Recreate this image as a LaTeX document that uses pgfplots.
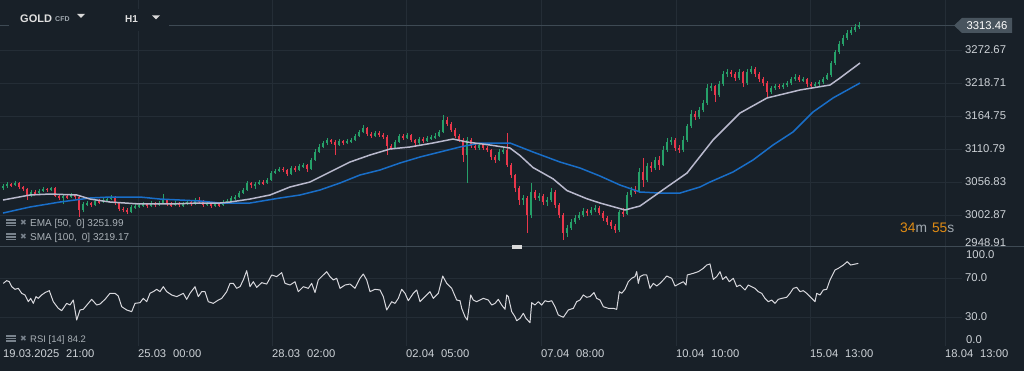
\documentclass[border=0pt]{standalone}
\usepackage{fontspec}
\setmainfont{Liberation Sans}
\newfontfamily\symfont{DejaVu Sans}
\usepackage{pgfplots}
\usepackage{pgfplotstable}
\pgfplotsset{compat=1.18}
\definecolor{bg}{RGB}{24,32,40}
\definecolor{gridc}{RGB}{36,45,54}
\definecolor{txt}{RGB}{205,210,215}
\definecolor{textdim}{RGB}{160,168,175}
\definecolor{upc}{RGB}{38,160,105}
\definecolor{dnc}{RGB}{232,55,75}
\definecolor{emac}{RGB}{185,185,205}
\definecolor{smac}{RGB}{25,110,200}
\definecolor{rsic}{RGB}{215,215,220}
\definecolor{orng}{RGB}{225,140,20}
\definecolor{icong}{RGB}{120,130,140}
\definecolor{sepc}{RGB}{62,74,84}
\definecolor{boxc}{RGB}{72,84,94}

\pgfplotstableread{
x o h l c
3 3046.9 3053.5 3043.7 3050.2
7 3050.2 3056.7 3046.9 3053.5
11 3053.5 3055.1 3048.6 3051.8
15 3051.8 3058.4 3050.2 3055.1
19 3055.1 3056.7 3045.3 3048.6
23 3048.6 3050.2 3042.0 3045.3
27 3045.3 3046.9 3027.3 3033.8
31 3033.8 3043.7 3032.2 3040.4
35 3040.4 3043.7 3035.5 3038.7
39 3038.7 3045.3 3037.1 3042.0
43 3042.0 3048.6 3040.4 3045.3
47 3045.3 3046.9 3040.4 3043.7
51 3043.7 3048.6 3042.0 3046.9
55 3046.9 3048.6 3032.2 3033.8
59 3033.8 3035.5 3027.3 3030.6
63 3030.6 3037.1 3020.8 3033.8
67 3033.8 3037.1 3028.9 3032.2
71 3032.2 3038.7 3030.6 3035.5
75 3035.5 3037.1 3028.9 3032.2
79 3032.2 3035.5 2999.5 3011.0
83 3011.0 3024.0 3007.7 3020.8
87 3020.8 3025.7 3017.5 3022.4
91 3022.4 3024.0 3015.9 3019.1
95 3019.1 3028.9 3017.5 3025.7
99 3025.7 3028.9 3020.8 3024.0
103 3024.0 3030.6 3022.4 3027.3
107 3027.3 3032.2 3024.0 3028.9
111 3028.9 3035.5 3027.3 3032.2
115 3032.2 3033.8 3019.1 3022.4
119 3022.4 3024.0 3009.3 3012.6
123 3012.6 3015.9 3007.7 3011.0
127 3011.0 3014.2 3004.4 3007.7
131 3007.7 3019.1 3006.0 3015.9
135 3015.9 3020.8 3012.6 3017.5
139 3017.5 3022.4 3014.2 3019.1
143 3019.1 3024.0 3015.9 3020.8
147 3020.8 3022.4 3014.2 3017.5
151 3017.5 3025.7 3015.9 3022.4
155 3022.4 3024.0 3015.9 3019.1
159 3019.1 3025.7 3017.5 3022.4
163 3022.4 3037.1 3020.8 3027.3
167 3027.3 3028.9 3017.5 3020.8
171 3020.8 3024.0 3015.9 3019.1
175 3019.1 3025.7 3017.5 3022.4
179 3022.4 3024.0 3015.9 3019.1
183 3019.1 3024.0 3015.9 3020.8
187 3020.8 3027.3 3019.1 3024.0
191 3024.0 3025.7 3017.5 3020.8
195 3020.8 3030.6 3019.1 3027.3
199 3027.3 3032.2 3022.4 3025.7
203 3025.7 3027.3 3015.9 3019.1
207 3019.1 3025.7 3017.5 3022.4
211 3022.4 3024.0 3014.2 3017.5
215 3017.5 3024.0 3015.9 3020.8
219 3020.8 3022.4 3015.9 3019.1
223 3019.1 3027.3 3017.5 3024.0
227 3024.0 3028.9 3020.8 3025.7
231 3025.7 3033.8 3024.0 3030.6
235 3030.6 3035.5 3027.3 3032.2
239 3032.2 3042.0 3030.6 3038.7
243 3038.7 3046.9 3037.1 3043.7
247 3043.7 3058.4 3042.0 3055.1
251 3055.1 3056.7 3046.9 3051.8
255 3051.8 3056.7 3045.3 3053.5
259 3053.5 3060.0 3051.8 3056.7
263 3056.7 3060.0 3051.8 3055.1
267 3055.1 3063.3 3053.5 3060.0
271 3060.0 3074.7 3058.4 3071.4
275 3071.4 3078.0 3069.8 3074.7
279 3074.7 3081.3 3073.1 3078.0
283 3078.0 3081.3 3073.1 3076.4
287 3076.4 3078.0 3066.5 3069.8
291 3069.8 3082.9 3068.2 3079.6
295 3079.6 3082.9 3073.1 3076.4
299 3076.4 3086.2 3074.7 3082.9
303 3082.9 3087.8 3079.6 3084.5
307 3084.5 3086.2 3073.1 3078.0
311 3078.0 3096.0 3076.4 3092.7
315 3092.7 3110.7 3091.1 3105.8
319 3105.8 3118.9 3104.1 3114.0
323 3114.0 3123.8 3112.3 3120.5
327 3120.5 3128.7 3117.2 3125.4
331 3125.4 3127.0 3118.9 3122.1
335 3122.1 3125.4 3100.9 3117.2
339 3117.2 3127.0 3115.6 3123.8
343 3123.8 3125.4 3117.2 3120.5
347 3120.5 3127.0 3118.9 3123.8
351 3123.8 3128.7 3120.5 3125.4
355 3125.4 3135.2 3123.8 3131.9
359 3131.9 3141.8 3130.3 3138.5
363 3138.5 3149.9 3136.8 3145.0
367 3145.0 3146.7 3131.9 3135.2
371 3135.2 3138.5 3128.7 3131.9
375 3131.9 3140.1 3130.3 3136.8
379 3136.8 3140.1 3130.3 3133.6
383 3133.6 3136.8 3127.0 3130.3
387 3130.3 3133.6 3100.9 3115.6
391 3115.6 3118.9 3109.1 3112.3
395 3112.3 3125.4 3110.7 3122.1
399 3122.1 3135.2 3120.5 3131.9
403 3131.9 3135.2 3125.4 3128.7
407 3128.7 3136.8 3127.0 3133.6
411 3133.6 3135.2 3122.1 3125.4
415 3125.4 3127.0 3115.6 3120.5
419 3120.5 3130.3 3117.2 3127.0
423 3127.0 3130.3 3120.5 3123.8
427 3123.8 3131.9 3122.1 3128.7
431 3128.7 3133.6 3125.4 3130.3
435 3130.3 3136.8 3127.0 3131.9
439 3131.9 3141.8 3130.3 3138.5
443 3138.5 3166.3 3136.8 3158.1
447 3158.1 3163.0 3148.3 3151.6
451 3151.6 3154.8 3138.5 3141.8
455 3141.8 3145.0 3128.7 3131.9
459 3131.9 3135.2 3122.1 3125.4
463 3125.4 3128.7 3089.4 3100.9
467 3100.9 3130.3 3055.1 3125.4
471 3125.4 3128.7 3112.3 3115.6
475 3115.6 3118.9 3109.1 3112.3
479 3112.3 3120.5 3109.1 3117.2
483 3117.2 3118.9 3109.1 3112.3
487 3112.3 3115.6 3105.8 3109.1
491 3109.1 3110.7 3092.7 3097.6
495 3097.6 3100.9 3087.8 3092.7
499 3092.7 3110.7 3091.1 3105.8
503 3105.8 3114.0 3102.5 3109.1
507 3109.1 3136.8 3081.3 3084.5
511 3084.5 3087.8 3063.3 3068.2
515 3068.2 3069.8 3040.4 3046.9
519 3046.9 3050.2 3019.1 3027.3
523 3027.3 3035.5 3019.1 3030.6
527 3030.6 3033.8 2973.3 3002.8
531 3002.8 3055.1 2997.9 3040.4
535 3040.4 3043.7 3027.3 3030.6
539 3030.6 3038.7 3025.7 3033.8
543 3033.8 3037.1 3019.1 3024.0
547 3024.0 3032.2 3017.5 3027.3
551 3027.3 3046.9 3024.0 3040.4
555 3040.4 3043.7 3014.2 3019.1
559 3019.1 3022.4 2997.9 3002.8
563 3002.8 3006.0 2961.9 2973.3
567 2973.3 2986.4 2966.8 2981.5
571 2981.5 2996.2 2978.3 2991.3
575 2991.3 3002.8 2988.1 2997.9
579 2997.9 3007.7 2994.6 3002.8
583 3002.8 3014.2 2999.5 3009.3
587 3009.3 3012.6 3001.1 3006.0
591 3006.0 3015.9 3002.8 3011.0
595 3011.0 3019.1 3007.7 3014.2
599 3014.2 3017.5 3002.8 3006.0
603 3006.0 3009.3 2993.0 2997.9
607 2997.9 3001.1 2986.4 2991.3
611 2991.3 2994.6 2979.9 2984.8
615 2984.8 2988.1 2973.3 2978.3
619 2978.3 3011.0 2975.0 3007.7
623 3007.7 3014.2 2999.5 3004.4
627 3004.4 3040.4 3002.8 3035.5
631 3035.5 3048.6 3032.2 3043.7
635 3043.7 3050.2 3037.1 3042.0
639 3042.0 3079.6 3038.7 3073.1
643 3073.1 3096.0 3048.6 3060.0
647 3060.0 3087.8 3056.7 3082.9
651 3082.9 3089.4 3073.1 3079.6
655 3079.6 3097.6 3076.4 3092.7
659 3092.7 3099.2 3076.4 3084.5
663 3084.5 3115.6 3082.9 3109.1
667 3109.1 3128.7 3105.8 3122.1
671 3122.1 3130.3 3117.2 3125.4
675 3125.4 3128.7 3107.4 3112.3
679 3112.3 3117.2 3104.1 3109.1
683 3109.1 3131.9 3105.8 3125.4
687 3125.4 3151.6 3122.1 3148.3
691 3148.3 3174.5 3145.0 3167.9
695 3167.9 3172.8 3158.1 3163.0
699 3163.0 3179.4 3159.7 3174.5
703 3174.5 3190.8 3171.2 3185.9
707 3185.9 3217.0 3182.6 3210.4
711 3210.4 3218.6 3205.5 3213.7
715 3213.7 3215.3 3187.5 3199.0
719 3199.0 3221.9 3195.7 3217.0
723 3217.0 3238.2 3213.7 3233.3
727 3233.3 3241.5 3228.4 3236.6
731 3236.6 3239.9 3228.4 3233.3
735 3233.3 3236.6 3221.9 3226.8
739 3226.8 3241.5 3223.5 3236.6
743 3236.6 3238.2 3212.1 3218.6
747 3218.6 3241.5 3215.3 3236.6
751 3236.6 3246.4 3233.3 3241.5
755 3241.5 3244.8 3228.4 3233.3
759 3233.3 3236.6 3220.2 3225.1
763 3225.1 3228.4 3213.7 3218.6
767 3218.6 3221.9 3195.7 3203.9
771 3203.9 3213.7 3200.6 3210.4
775 3210.4 3217.0 3207.2 3213.7
779 3213.7 3217.0 3208.8 3212.1
783 3212.1 3218.6 3208.8 3215.3
787 3215.3 3221.9 3212.1 3218.6
791 3218.6 3228.4 3215.3 3225.1
795 3225.1 3233.3 3221.9 3228.4
799 3228.4 3231.7 3220.2 3223.5
803 3223.5 3228.4 3220.2 3225.1
807 3225.1 3226.8 3212.1 3217.0
811 3217.0 3220.2 3210.4 3213.7
815 3213.7 3220.2 3210.4 3217.0
819 3217.0 3223.5 3213.7 3220.2
823 3220.2 3228.4 3217.0 3225.1
827 3225.1 3234.9 3223.5 3231.7
831 3231.7 3254.6 3228.4 3251.3
835 3251.3 3272.6 3248.0 3269.3
839 3269.3 3287.3 3266.0 3282.4
843 3282.4 3297.1 3279.1 3292.2
847 3292.2 3305.3 3288.9 3300.3
851 3300.3 3310.2 3297.1 3305.3
855 3305.3 3315.1 3302.0 3310.2
859 3310.2 3318.3 3306.9 3313.5
}\candles

\pgfplotstableread{
x v
3 3027.3
30 3035.5
50 3037.1
77 3035.5
90 3028.9
110 3024.0
140 3020.8
170 3020.8
200 3022.4
220 3022.4
230 3024.0
250 3028.9
270 3035.5
290 3048.6
310 3056.7
330 3073.1
350 3089.4
370 3100.9
390 3110.7
410 3114.0
433 3120.5
453 3127.0
467 3122.1
490 3117.2
510 3112.3
520 3100.0
533 3080.4
553 3062.0
567 3042.7
587 3029.3
600 3022.4
625 3011.0
640 3017.5
667 3048.6
687 3071.4
713 3125.4
740 3169.5
767 3194.1
800 3207.2
830 3215.3
840 3226.8
860 3251.3
}\ema

\pgfplotstableread{
x v
3 3006.0
30 3015.9
60 3024.0
90 3030.6
110 3032.2
140 3032.2
160 3028.9
200 3025.7
220 3022.4
250 3022.4
280 3030.6
300 3035.5
320 3043.7
340 3055.1
360 3068.2
380 3076.4
400 3087.8
420 3097.6
460 3114.0
480 3120.5
510 3120.5
533 3105.8
560 3089.4
580 3079.6
600 3066.5
620 3051.8
640 3040.4
660 3038.7
680 3038.7
700 3048.6
710 3056.7
733 3073.1
753 3092.7
773 3117.2
793 3138.5
813 3171.2
833 3194.1
860 3218.6
}\sma

\pgfplotstableread{
x r
3.3 64.5
6.7 67.3
9.3 66.2
11.7 61.1
15 58.4
18.3 59.4
21.7 54.3
25 52.6
28.3 45.7
30.7 49.1
33.3 44.0
36 50.9
38.3 49.1
41.7 52.6
45 55.0
49.3 57.0
53.3 45.7
58.3 38.9
61.7 36.5
66.7 44.0
70 42.3
73.3 47.4
76.7 26.9
80 37.2
83.3 37.9
88.3 44.0
91.7 48.1
96.7 42.3
100 43.3
105 48.1
110 54.3
115 54.3
118.3 51.5
121.7 40.6
126.7 37.2
131.7 35.5
135 44.0
140 44.7
143.3 49.1
146.7 45.7
150 54.3
153.3 56.0
156.7 58.4
160 56.0
163.3 61.1
166.7 56.0
171.7 52.6
176.7 50.9
183.3 54.3
186.7 48.1
190 54.3
195 61.1
198.3 50.9
201.7 56.0
205 56.0
208.3 45.7
213.3 44.0
218.3 47.4
221.7 49.1
226.7 56.0
230 64.5
233.3 64.5
236.7 59.4
240 61.1
243.3 68.0
246.7 77.5
250 61.1
253.3 66.2
256.7 60.4
261.7 65.2
266.7 63.8
271.7 73.1
276.7 71.4
281.7 75.5
285 64.5
290 62.8
295 66.2
298.3 56.0
303.3 61.1
308.3 59.4
311.7 64.5
315 55.0
318.3 68.0
323.3 73.1
326.7 76.5
330 71.4
333.3 68.0
336.7 69.7
340 59.4
345 62.8
350 63.8
355 59.4
360 69.7
363.3 74.1
366.7 68.0
370 56.0
375 58.4
380 57.7
383.3 50.9
386.7 37.2
391.7 45.7
395 44.0
398.3 49.1
401.7 58.4
405 54.3
408.3 46.7
413.3 54.3
416.7 57.7
420 45.7
425 50.9
430 56.0
433.3 49.1
438.3 54.3
442.7 72.0
446.7 64.5
451.7 59.4
456.7 47.4
460 46.7
461.7 38.9
465 30.3
467.3 26.9
470.7 52.6
473.3 47.4
476.7 45.7
480 47.4
483.3 49.1
488.3 47.4
491.7 42.3
495 44.0
498.3 48.1
501.7 42.3
505 37.9
506.7 52.6
508.3 50.9
511.7 35.5
515 30.3
516.7 26.2
520 28.6
523.3 33.8
526 28.6
530 24.2
531.7 44.7
535 42.3
538.3 45.7
541.7 42.3
545 46.7
548.3 45.7
551.7 46.7
555 40.6
558.3 32.1
563.3 29.7
568.3 37.2
573.3 38.9
576.7 45.7
580 47.4
583.3 52.6
586.7 50.2
590 50.9
594 55.0
596.7 49.1
600 47.4
603.3 40.6
608.3 38.9
613.3 38.9
616.7 37.9
619.3 56.0
621.7 54.3
625 58.4
628.3 66.2
631.7 69.7
635 71.4
636.7 76.5
638.3 64.5
640 71.4
643.3 73.1
646.7 73.1
650 59.4
653.3 64.5
656.7 61.8
660 64.5
663.3 68.0
666.7 72.0
671.7 69.7
675 61.8
680 64.5
683.3 66.2
686 62.8
687.3 73.1
693.3 74.8
698.3 76.5
703.3 79.9
706.7 83.3
710 84.4
713.3 68.6
716.7 71.4
720 76.5
722.7 68.6
726 71.4
729.3 66.2
733.3 69.7
736.7 61.1
740 62.8
745 57.7
748.3 62.8
751.7 61.1
755 59.4
758.3 56.0
761.7 54.3
765 49.1
768.3 45.7
771.7 47.4
775 44.0
778.3 48.1
781.7 49.1
786.7 50.2
790 54.3
793.3 59.4
796.7 60.4
800 56.0
803.3 57.0
806.7 54.3
810 50.9
815 45.7
816.7 54.3
820 52.6
823.3 57.7
826.7 58.4
830 68.0
835 78.2
838.3 79.9
843.3 83.3
847.3 86.8
850.7 83.3
858.3 85.0
}\rsi

\pgfplotsset{
  panel/.style={
    scale only axis, width=962pt, xmin=0, xmax=962,
    axis line style={draw=none}, major tick length=0pt,
    grid=major, grid style={draw=gridc, line width=0.8pt},
    xtick={138,272,406,541,676,810,945},
    yticklabel pos=right,
    yticklabel style={anchor=west, inner sep=0pt, xshift=3pt, text=txt,
      font=\fontsize{11.3}{13}\selectfont},
  },
  candle/.style 2 args={draw=none, no markers, forget plot,
    error bars/.cd, y dir=both, y explicit, error mark=none,
    error bar style={line width=#1, draw=#2}},
}

\newcommand\legicon[2]{%
  \fill[icong] (#1,#2-3.5) rectangle (#1+10,#2+3.5);
  \draw[bg,line width=0.7pt] (#1,#2+1.2) -- (#1+10,#2+1.2) (#1,#2-1.2) -- (#1+10,#2-1.2);
  \node[anchor=center,inner sep=0pt,text=icong,font=\symfont\fontsize{8}{8}\selectfont] at (#1+17.5,#2) {✖};
}

\begin{document}
\begin{tikzpicture}[x=1pt,y=1pt]
\fill[bg] (0,0) rectangle (1024,371);

% ---------- price panel ----------
\begin{axis}[panel, at={(0pt,124pt)}, anchor=south west, height=247pt,
  ymin=2950.5, ymax=3354.3,
  xticklabels={,,,,,,,},
  ytick={3002.87,3056.83,3110.79,3164.75,3218.71,3272.67},
  yticklabels={3002.87,3056.83,3110.79,3164.75,3218.71,3272.67},
]
\addplot[draw=sepc, line width=0.9pt, forget plot] coordinates {(0,3313.46) (962,3313.46)};
% wicks
\addplot[restrict expr to domain={\thisrow{c}-\thisrow{o}}{0:100000}, candle={0.8pt}{upc}]
  table[x=x, y expr={(\thisrow{h}+\thisrow{l})/2}, y error expr={(\thisrow{h}-\thisrow{l})/2}] {\candles};
\addplot[restrict expr to domain={\thisrow{c}-\thisrow{o}}{-100000:-0.001}, candle={0.8pt}{dnc}]
  table[x=x, y expr={(\thisrow{h}+\thisrow{l})/2}, y error expr={(\thisrow{h}-\thisrow{l})/2}] {\candles};
% bodies
\addplot[restrict expr to domain={\thisrow{c}-\thisrow{o}}{0:100000}, candle={2.6pt}{upc}]
  table[x=x, y expr={(\thisrow{o}+\thisrow{c})/2}, y error expr={max(abs(\thisrow{c}-\thisrow{o})/2,0.6)}] {\candles};
\addplot[restrict expr to domain={\thisrow{c}-\thisrow{o}}{-100000:-0.001}, candle={2.6pt}{dnc}]
  table[x=x, y expr={(\thisrow{o}+\thisrow{c})/2}, y error expr={max(abs(\thisrow{c}-\thisrow{o})/2,0.6)}] {\candles};
% moving averages
\addplot[smac, line width=1.5pt, mark=none, line join=round] table[x=x, y=v] {\sma};
\addplot[emac, line width=1.5pt, mark=none, line join=round] table[x=x, y=v] {\ema};
\end{axis}

% ---------- RSI panel ----------
\begin{axis}[panel, at={(0pt,24.75pt)}, anchor=south west, height=99.25pt,
  ymin=0, ymax=101.8,
  ytick={30,70}, yticklabels={30.0,70.0},
  xticklabels={{25.03\hspace{7pt}00:00},{28.03\hspace{7pt}02:00},{02.04\hspace{7pt}05:00},{07.04\hspace{7pt}08:00},{10.04\hspace{7pt}10:00},{15.04\hspace{7pt}13:00},{18.04\hspace{7pt}13:00}},
  extra x ticks={3}, extra x tick labels={19.03.2025\hspace{7pt}21:00},
  extra x tick style={grid=none},
  xticklabel style={anchor=north west, inner sep=0pt, yshift=-2.8pt, text=txt,
    font=\fontsize{11.2}{13}\selectfont},
]
\addplot[rsic, line width=1pt, mark=none, line join=round] table[x=x, y=r] {\rsi};
\end{axis}

% separator
\draw[sepc, line width=1pt] (0,124) -- (1024,124);
\fill[black!15] (512,122.3) rectangle (522,125.7);

% extra axis labels
\node[anchor=west, inner sep=0pt, text=txt, font=\fontsize{11.3}{13}\selectfont] at (965,128.5) {2948.91};
\node[anchor=west, inner sep=0pt, text=txt, font=\fontsize{11.3}{13}\selectfont] at (966,116) {100.0};
\node[anchor=west, inner sep=0pt, text=txt, font=\fontsize{11.3}{13}\selectfont] at (966,31) {0.0};

% current price tag
\fill[boxc] (954,345.5) -- (962,353) -- (1012,353) -- (1012,338) -- (962,338) -- cycle;
\node[anchor=center, inner sep=0pt, text=white, font=\fontsize{11.3}{13}\selectfont] at (987,345.5) {3313.46};

% header
\fill[bg] (9,340) rectangle (169,362);
\node[anchor=base west, inner sep=0pt, text=white!88!black, font=\bfseries\fontsize{11}{13}\selectfont] at (20,348) {GOLD};
\node[anchor=base west, inner sep=0pt, text=textdim, font=\bfseries\fontsize{7}{8}\selectfont] at (55,349) {CFD};
\fill[white!85!black] (77,357) -- (85,357) -- (81,353) -- cycle;
\node[anchor=base west, inner sep=0pt, text=white!88!black, font=\bfseries\fontsize{10}{12}\selectfont] at (125,348) {H1};
\fill[white!85!black] (152,355.5) -- (160,355.5) -- (156,351.5) -- cycle;

% legends
\legicon{6}{148}
\node[anchor=base west, inner sep=0pt, text=textdim!90!white, font=\fontsize{10}{12}\selectfont] at (30,144.5) {EMA [50,\hspace{5pt}0] 3251.99};
\legicon{6}{134}
\node[anchor=base west, inner sep=0pt, text=textdim!90!white, font=\fontsize{10}{12}\selectfont] at (30,130.5) {SMA [100,\hspace{5pt}0] 3219.17};
\legicon{6}{32.5}
\node[anchor=base west, inner sep=0pt, text=textdim!90!white, font=\fontsize{9.5}{11}\selectfont] at (30,28.5) {RSI [14]\hspace{3pt}84.2};

% timer
\node[anchor=base west, inner sep=0pt, font=\fontsize{13.8}{15}\selectfont] at (900,138)
  {\textcolor{orng}{34}\textcolor{textdim}{m}\hspace{5pt}\textcolor{orng}{55}\textcolor{textdim}{s}};

\pgfresetboundingbox
\useasboundingbox (0,0) rectangle (1024,371);
\end{tikzpicture}
\end{document}
